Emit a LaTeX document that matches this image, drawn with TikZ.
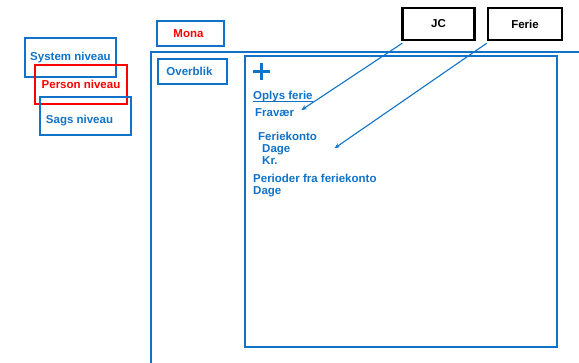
\documentclass[tikz,border=0pt]{standalone}
\usepackage{fontspec}
\setmainfont{Liberation Sans}
\usepackage{xcolor}
\usetikzlibrary{positioning}
\usetikzlibrary{calc,arrows.meta}
\definecolor{skitseblaa}{RGB}{16,114,200}
\definecolor{skitserod}{RGB}{255,0,0}
\tikzset{
  niveau/.style={draw=skitseblaa,line width=2pt,inner sep=0pt,text=skitseblaa,font=\fontsize{11.5}{13}\selectfont\bfseries},
  bruger/.style={draw=black,line width=2.4pt,inner sep=0pt,font=\fontsize{11.5}{13}\selectfont\bfseries},
  punkt/.style={anchor=base west,inner sep=0pt,text=skitseblaa,font=\fontsize{11.5}{13}\selectfont\bfseries},
  pil/.style={draw=skitseblaa,line width=1.1pt,-{Stealth[length=5.5pt,width=4.5pt]}}
}

\begin{document}
\begin{tikzpicture}[x=1pt,y=-1pt]
			\useasboundingbox (0,0) rectangle (579,363);
			\draw (70.5,57.5) node[niveau,minimum width=91pt,minimum height=39pt,name=system]{System niveau};
			\draw (81,84.5) node[niveau,draw=skitserod,text=skitserod,minimum width=92pt,minimum height=39pt,name=person]{Person niveau};
			\draw (85.5,116) node[niveau,minimum width=91pt,minimum height=38pt,name=sags]{\hspace{-12pt}\raisebox{-8pt}[0pt][0pt]{Sags niveau}};
			\draw (190.5,33.5) node[niveau,text=skitserod,minimum width=67pt,minimum height=25pt,name=mona]{\hspace{-4pt}Mona};
			\draw (192.5,71.5) node[niveau,minimum width=69pt,minimum height=25pt,name=overblik]{\hspace{-6pt}Overblik};
			\draw[skitseblaa,line width=2pt] (151,363) -- (151,52) -- (579,52);
			\draw[skitseblaa,line width=2pt] (245,56) rectangle (557,347);
			\draw[skitseblaa,line width=2.8pt] (253,71.5) -- (270,71.5) (261.5,63) -- (261.5,80);
			\draw (438.5,24) node[bruger,minimum width=72pt,minimum height=32pt,name=jc]{JC};
			\draw (525,24) node[bruger,minimum width=74pt,minimum height=32pt,name=ferie]{Ferie};
			\draw (253,100) node[punkt,name=oplys]{Oplys ferie};
			\draw[skitseblaa,line width=1pt] ($(oplys.base west)+(0,-2pt)$) -- ($(oplys.base east)+(0,-2pt)$);
			\draw (255,117) node[punkt,name=fravaer]{Fravær};
			\draw (258,141) node[punkt,name=feriekonto]{Feriekonto};
			\draw (262,153) node[punkt,name=kontodage]{Dage};
			\draw (262,165) node[punkt,name=kroner]{Kr.};
			\draw (253,183) node[punkt,name=perioder]{Perioder fra feriekonto};
			\draw (253,195) node[punkt,name=periodedage]{Dage};
			\coordinate (jcmaal) at ($(fravaer.east)+(7pt,3pt)$);
			\coordinate (feriemaal) at ($(kontodage.east)+(44pt,2pt)$);
			\draw[pil] ($(jc.south west)+(1pt,-2pt)$) -- (jcmaal);
			\draw[pil] ($(ferie.south west)+(0pt,-2pt)$) -- (feriemaal);
		\end{tikzpicture}
\end{document}
